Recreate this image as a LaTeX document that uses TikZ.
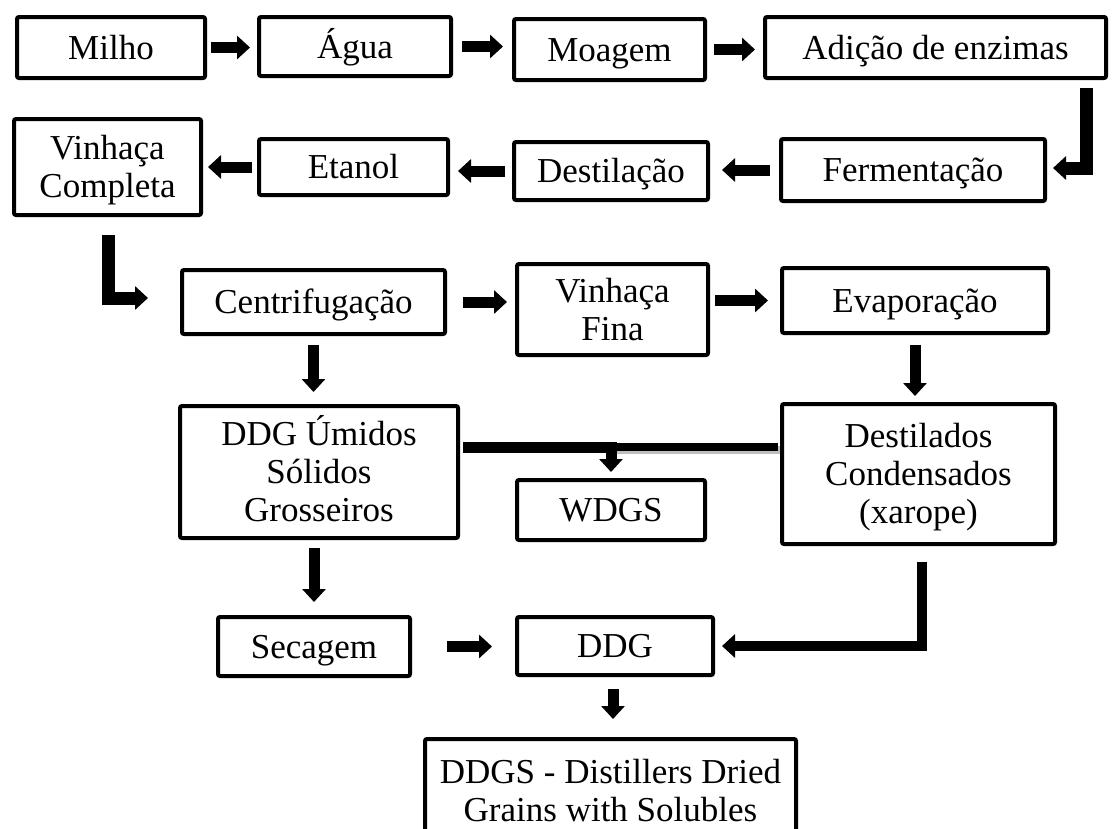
\documentclass[tikz,border=0pt]{standalone}
\usepackage{fontspec}
\setmainfont{Liberation Serif}
\usetikzlibrary{arrows.meta,calc}
\newcommand\ms{\rule[-10pt]{0pt}{43pt}}
\newcommand\boxfont{\fontsize{35}{38}\selectfont\lineskiplimit-100pt\relax}
\begin{document}
\begin{tikzpicture}[x=1pt,y=-1pt,
  box/.style={draw, line width=4pt, rounded corners=2pt, align=center,
    font=\boxfont, inner sep=0pt},
  blk/.style={line width=11pt, line join=miter, -{Triangle[width=23pt,length=13pt]}},
  bar/.style={line width=11pt},
]
\useasboundingbox[fill=white] (0,0) rectangle (1115,828);
% row 1
\node[box, minimum width=188pt, minimum height=61pt] (milho) at (111,47.5) {\ms Milho};
\node[box, minimum width=192pt, minimum height=59pt] (agua) at (355,46.5) {\ms Água};
\node[box, minimum width=191pt, minimum height=61pt] (moagem) at (609.5,49.5) {\ms Moagem};
\node[box, minimum width=341pt, minimum height=61pt] (adicao) at (935.5,47.5) {\ms Adição de enzimas};
% row 2
\node[box, minimum width=187pt, minimum height=96pt] (vinhacaC) at (107.5,167) {\ms Vinhaça\\\ms Completa};
\node[box, minimum width=189pt, minimum height=56pt] (etanol) at (353.5,167) {\ms Etanol};
\node[box, minimum width=194pt, minimum height=58pt] (destilacao) at (611,171) {\ms Destilação};
\node[box, minimum width=264pt, minimum height=62pt] (fermentacao) at (913,170) {\ms Fermentação};
% row 3
\node[box, minimum width=263pt, minimum height=64pt] (centrif) at (313.5,302) {\ms Centrifugação};
\node[box, minimum width=191pt, minimum height=91pt] (vfina) at (612.5,309.5) {\ms Vinhaça\\\ms Fina};
\node[box, minimum width=266pt, minimum height=65pt] (evap) at (915,300.5) {\ms Evaporação};
% row 4
\node[box, minimum width=278pt, minimum height=132pt] (ddgu) at (319,472) {\ms DDG Úmidos\\\ms Sólidos\\\ms Grosseiros};
\node[box, minimum width=273pt, minimum height=140pt] (destcond) at (918.5,474) {\ms Destilados\\\ms Condensados\\\ms (xarope)};
\node[box, minimum width=188pt, minimum height=60pt] (wdgs) at (611,510) {\ms WDGS};
% row 5
\node[box, minimum width=192pt, minimum height=59pt] (secagem) at (314,646.5) {\ms Secagem};
\node[box, minimum width=196pt, minimum height=58pt] (ddg) at (615,646) {\ms DDG};
\node[box, minimum width=371pt, minimum height=104pt] (ddgs) at (610.5,791) {\ms DDGS - Distillers Dried\\\ms Grains with Solubles};

% row 1 arrows
\draw[blk, shorten <=4pt, shorten >=7pt] (milho.east) -- (milho.east -| agua.west);
\draw[blk, shorten <=9pt, shorten >=9pt] (agua.east) -- (agua.east -| moagem.west);
\draw[blk, shorten <=7pt, shorten >=8pt] (moagem.east) -- (moagem.east -| adicao.west);
% elbow to fermentacao
\draw[blk, line width=13pt] ($(adicao.south east)+(-22,8)$) |- ($(fermentacao.east)+(6,-2)$);
% row 2 arrows
\draw[blk, shorten <=5pt, shorten >=5pt] (etanol.west) -- (etanol.west -| vinhacaC.east);
\draw[blk, shorten <=7pt, shorten >=8pt] (destilacao.west) -- (destilacao.west -| etanol.east);
\draw[blk, shorten <=9pt, shorten >=12pt] (fermentacao.west) -- (fermentacao.west -| destilacao.east);
% elbow to centrifugacao
\draw[blk, line width=13pt] ($(vinhacaC.south)+(1,18)$) |- ($(centrif.west)+(-32,-4)$);
% row 3 arrows
\draw[blk, shorten <=16pt, shorten >=8pt] (centrif.east) -- (centrif.east -| vfina.west);
\draw[blk, shorten <=5pt, shorten >=12pt] (evap.west -| vfina.east) -- (evap.west);
% down arrows
\draw[blk, shorten <=9pt, shorten >=12pt] (centrif.south) -- (centrif.south |- ddgu.north);
\draw[blk, shorten <=10pt, shorten >=6pt] (evap.south) -- (evap.south |- destcond.north);
% bar between ddgu and destilados, with arrow to WDGS
\coordinate (barL) at ($(ddgu.east)+(3,-25)$);
\coordinate (barR) at (barL -| destcond.west);
\coordinate (barM) at (barL -| wdgs.north);
\draw[line width=8pt, black!25] ($(barM)+(2,3)$) -- ($(barR)+(0,3)$);
\draw[line width=8pt] (barM) -- ($(barR)+(-2,0)$);
\draw[bar] (barL) -- ($(barM)+(6,0)$);
\draw[blk, shorten >=6pt] ($(barM)+(0,4)$) -- (wdgs.north);
% row 5
\draw[blk, shorten <=8pt, shorten >=13pt] (secagem.north |- ddgu.south) -- (secagem.north);
\draw[blk, shorten <=35pt, shorten >=23pt] (secagem.east) -- (secagem.east -| ddg.west);
\draw[blk, line width=10pt] ($(destcond.south)+(3.5,16)$) |- ($(ddg.east)+(7,0)$);
\draw[blk, shorten <=12pt, shorten >=18pt] ([xshift=-2pt]ddg.south) -- ([xshift=-2pt]ddg.south |- ddgs.north);
\end{tikzpicture}
\end{document}
